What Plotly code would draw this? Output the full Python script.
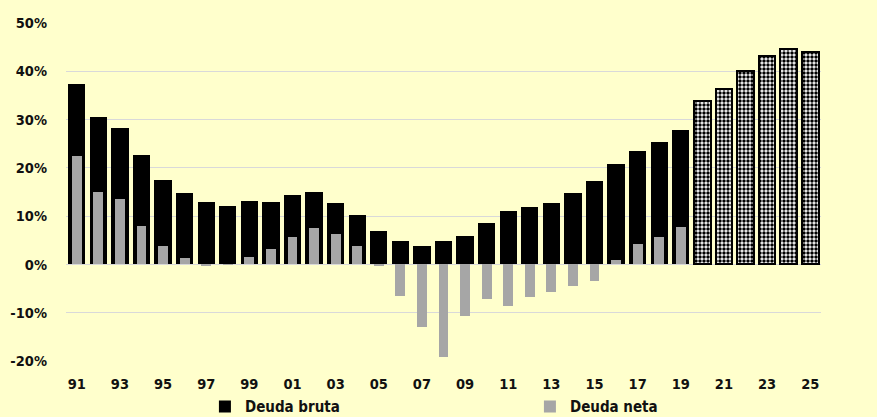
import plotly.graph_objects as go

years = list(range(1991, 2026))
gross_hist_years = list(range(1991, 2020))
gross_hist = [37.3, 30.6, 28.2, 22.6, 17.4, 14.7, 12.9, 12.0, 13.2, 13.0,
              14.4, 15.0, 12.7, 10.3, 7.0, 4.8, 3.9, 4.8, 5.8, 8.6,
              11.1, 11.9, 12.7, 14.8, 17.2, 20.8, 23.4, 25.3, 27.8]
proj_years = list(range(2020, 2026))
gross_proj = [33.8, 36.4, 40.0, 43.1, 44.6, 44.0]
net_years = list(range(1991, 2020))
net = [22.5, 14.9, 13.5, 8.0, 3.9, 1.3, -0.2, -0.1, 1.5, 3.1,
       5.6, 7.6, 6.4, 3.9, -0.2, -6.6, -12.9, -19.2, -10.6, -7.1,
       -8.6, -6.8, -5.7, -4.4, -3.5, 1.0, 4.3, 5.6, 7.8]
label_years = list(range(1991, 2026, 2))
label_text = [f"{y % 100:02d}" for y in label_years]
y_ticks = [-20, -10, 0, 10, 20, 30, 40, 50]
y_text = [f"{v}%" for v in y_ticks]

BG = "#FFFFCC"
GRID = "#D9D9D9"
FAM = "DejaVu Sans Condensed, DejaVu Sans"
TXT = "#111111"
TICKFONT = dict(family=FAM, size=14.5, color=TXT, weight="bold")

fig = go.Figure()
fig.add_trace(go.Bar(x=gross_hist_years, y=gross_hist, name="Deuda bruta",
                     marker=dict(color="#000000", line=dict(width=0)), width=0.8))
fig.add_trace(go.Bar(x=proj_years, y=gross_proj, name="Deuda bruta (proy.)", showlegend=False,
                     marker=dict(color="#FFFFFF", line=dict(color="#000000", width=2),
                                 pattern=dict(shape=".", size=4, solidity=0.6,
                                              fgcolor="#000000", bgcolor="#FFFFFF",
                                              fillmode="replace")),
                     width=0.78))
fig.add_trace(go.Bar(x=net_years, y=net, name="Deuda neta",
                     marker=dict(color="#A6A6A6", line=dict(width=0)), width=0.46))

fig.update_layout(
    width=877, height=417,
    margin=dict(l=66, r=56, t=23, b=56, autoexpand=False),
    paper_bgcolor=BG, plot_bgcolor=BG,
    barmode="overlay", bargap=0,
    font=dict(family=FAM, size=14.5, color=TXT, weight="bold"),
    showlegend=True,
    legend=dict(orientation="h", x=0.184, xanchor="left", y=-0.135, yanchor="middle",
                bgcolor="rgba(0,0,0,0)",
                font=dict(size=15, family=FAM, color=TXT, weight="bold"),
                entrywidth=280, entrywidthmode="pixels", itemwidth=30, traceorder="normal"),
    xaxis=dict(range=[1990.5, 2025.5], tickvals=label_years, ticktext=label_text,
               showgrid=False, zeroline=False, showline=False, ticks="",
               tickfont=TICKFONT, ticklabelstandoff=12),
    xaxis2=dict(range=[1990.5, 2025.5], overlaying="x", anchor="free",
                position=20 / 70, tickvals=[1990.5 + 2 * k for k in range(18)],
                showticklabels=False, ticks="outside", ticklen=5, tickcolor=GRID,
                showgrid=False, zeroline=False, showline=False),
    yaxis=dict(range=[-20, 50], tickvals=y_ticks, ticktext=y_text,
               showgrid=True, gridcolor=GRID, gridwidth=1, zeroline=True,
               zerolinecolor=GRID, zerolinewidth=1, ticks="", ticklabelstandoff=18,
               tickfont=TICKFONT),
    yaxis2=dict(range=[-20, 50], tickvals=y_ticks, ticktext=y_text, overlaying="y",
                side="right", showgrid=False, zeroline=False, ticks="", ticklabelstandoff=18,
                tickfont=TICKFONT),
)

fig.write_html("out.html", config={"displayModeBar": False},
               post_script="document.body.style.margin='0';document.body.style.background='#FFFFCC';")
